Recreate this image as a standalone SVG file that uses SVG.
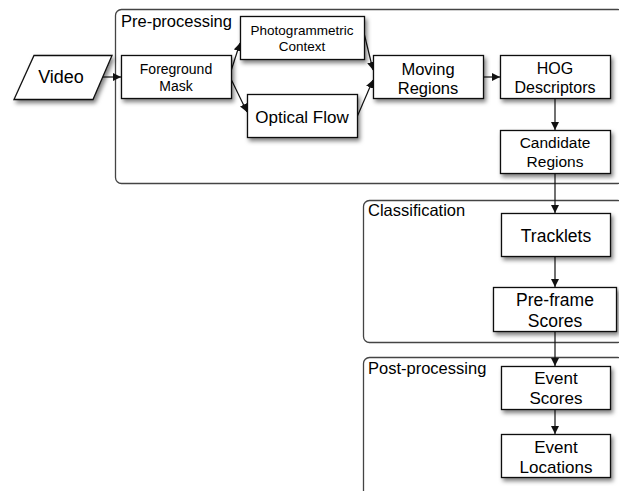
<svg xmlns="http://www.w3.org/2000/svg" width="619" height="491" viewBox="0 0 619 491">
<defs>
<style>
text{font-family:"Liberation Sans",Arial,sans-serif;fill:#000}
.grp{fill:#fff;stroke:#444;stroke-width:1.3}
.box{fill:#fff;stroke:#111;stroke-width:1.3;filter:url(#sh)}
.c{fill:none;stroke:#111;stroke-width:1.2;marker-end:url(#ah)}
.t{text-anchor:middle}
</style>
<filter id="sh" x="-20%" y="-20%" width="150%" height="160%">
<feDropShadow dx="2" dy="3" stdDeviation="2" flood-color="#000" flood-opacity="0.5"/>
</filter>
<marker id="ah" viewBox="0 0 10 10" refX="10" refY="5" markerWidth="8" markerHeight="8" markerUnits="userSpaceOnUse" orient="auto">
<path d="M0,0 L10,5 L0,10 z" fill="#111"/>
</marker>
</defs>
<rect width="619" height="491" fill="#fff"/>

<g id="pre-processing">
<rect class="grp" x="115.5" y="9.5" width="508" height="174" rx="6"/>
<text x="121" y="27" font-size="16.5">Pre-processing</text>
</g>
<g id="classification">
<rect class="grp" x="363.5" y="200.5" width="260" height="142" rx="6"/>
<text x="368" y="216" font-size="16.5">Classification</text>
</g>
<g id="post-processing">
<rect class="grp" x="363.5" y="357.5" width="260" height="150" rx="6"/>
<text x="368" y="374" font-size="16.5">Post-processing</text>
</g>

<g id="connectors">
<path class="c" d="M101,77 L121,77"/>
<path class="c" d="M231,71 L240,43"/>
<path class="c" d="M231,79 L247,112"/>
<path class="c" d="M364,33 L373,70"/>
<path class="c" d="M357,117 L373,80"/>
<path class="c" d="M483,77 L500,77"/>
<path class="c" d="M555,99 L555,130"/>
<path class="c" d="M555,174 L555,213"/>
<path class="c" d="M555,257 L555,287"/>
<path class="c" d="M555,332 L555,366"/>
<path class="c" d="M555,410 L555,434"/>
</g>

<g id="video">
<polygon class="box" points="34,55.5 112,55.5 93,99.5 14,99.5"/>
<text class="t" x="61" y="83" font-size="18">Video</text>
</g>
<g id="foreground-mask">
<rect class="box" x="121.5" y="55.5" width="110" height="43"/>
<text class="t" x="176" y="74" font-size="14">Foreground</text>
<text class="t" x="176" y="91" font-size="14">Mask</text>
</g>
<g id="photogrammetric-context">
<rect class="box" x="240.5" y="16.5" width="124" height="43"/>
<text class="t" x="302" y="35" font-size="13.5">Photogrammetric</text>
<text class="t" x="302" y="51" font-size="13.5">Context</text>
</g>
<g id="optical-flow">
<rect class="box" x="247.5" y="94.5" width="110" height="43"/>
<text class="t" x="302" y="123" font-size="17">Optical Flow</text>
</g>
<g id="moving-regions">
<rect class="box" x="373.5" y="55.5" width="110" height="43"/>
<text class="t" x="428" y="75" font-size="16.5">Moving</text>
<text class="t" x="428" y="94" font-size="16.5">Regions</text>
</g>
<g id="hog-descriptors">
<rect class="box" x="500.5" y="55.5" width="110" height="43"/>
<text class="t" x="555" y="74" font-size="16">HOG</text>
<text class="t" x="555" y="93" font-size="16">Descriptors</text>
</g>
<g id="candidate-regions">
<rect class="box" x="500.5" y="130.5" width="110" height="43"/>
<text class="t" x="555" y="148" font-size="15.5">Candidate</text>
<text class="t" x="555" y="167" font-size="15.5">Regions</text>
</g>
<g id="tracklets">
<rect class="box" x="501.5" y="213.5" width="109" height="43"/>
<text class="t" x="556" y="242" font-size="17.5">Tracklets</text>
</g>
<g id="pre-frame-scores">
<rect class="box" x="493.5" y="287.5" width="123" height="44"/>
<text class="t" x="555" y="306" font-size="17.5">Pre-frame</text>
<text class="t" x="555" y="327" font-size="17.5">Scores</text>
</g>
<g id="event-scores">
<rect class="box" x="501.5" y="366.5" width="109" height="43"/>
<text class="t" x="556" y="384" font-size="17">Event</text>
<text class="t" x="556" y="404" font-size="17">Scores</text>
</g>
<g id="event-locations">
<rect class="box" x="501.5" y="434.5" width="109" height="43"/>
<text class="t" x="556" y="453" font-size="17">Event</text>
<text class="t" x="556" y="473" font-size="17">Locations</text>
</g>
</svg>
